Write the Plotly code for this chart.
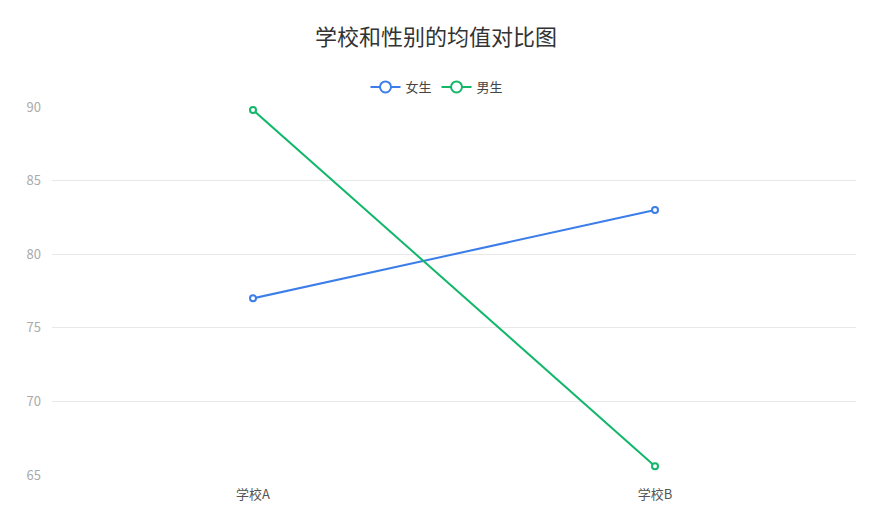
import plotly.graph_objects as go

categories = ["学校A", "学校B"]
female = [77.0, 83.0]
male = [89.8, 65.6]
series_names = ["女生", "男生"]
colors = ["#3b7de9", "#12b76a"]

fig = go.Figure()
for name, vals, c in zip(series_names, [female, male], colors):
    fig.add_trace(go.Scatter(
        x=categories, y=vals, name=name, mode="lines+markers",
        line=dict(color=c, width=2),
        marker=dict(symbol="circle", size=6, color="white", line=dict(color=c, width=2)),
        cliponaxis=False, showlegend=False, legendgroup=name,
    ))
for name, c in zip(series_names, colors):
    fig.add_trace(go.Scatter(
        x=[None], y=[None], name=name, mode="lines+markers",
        line=dict(color=c, width=2),
        marker=dict(symbol="circle", size=11, color="white", line=dict(color=c, width=2)),
        legendgroup=name,
    ))

fig.update_layout(
    width=871, height=528,
    margin=dict(l=44, r=23, t=99, b=61),
    paper_bgcolor="white", plot_bgcolor="white",
    font=dict(family="Noto Sans CJK SC", size=13, color="#555"),
    title=dict(text="学校和性别的均值对比图", x=428 / 871, xanchor="center", y=1 - 29 / 528, yanchor="middle",
               font=dict(size=22, color="#333")),
    legend=dict(orientation="h", x=0.5 - 17 / 804, xanchor="center", y=1 + 20 / 368, yanchor="middle",
                font=dict(size=13, color="#444"), itemwidth=30),
    xaxis=dict(type="category", range=[-0.5, 1.5], showgrid=False, showline=False,
               zeroline=False, ticks="", tickfont=dict(size=13, color="#555"), ticklabelstandoff=10),
    yaxis=dict(range=[65, 90], tickvals=[65, 70, 75, 80, 85, 90], showgrid=True,
               gridcolor="#e8e8e8", gridwidth=1, zeroline=False, showline=False,
               ticks="", tickfont=dict(size=13, color="#aaa"), ticklabelstandoff=10),
)
fig.write_html("out.html")
